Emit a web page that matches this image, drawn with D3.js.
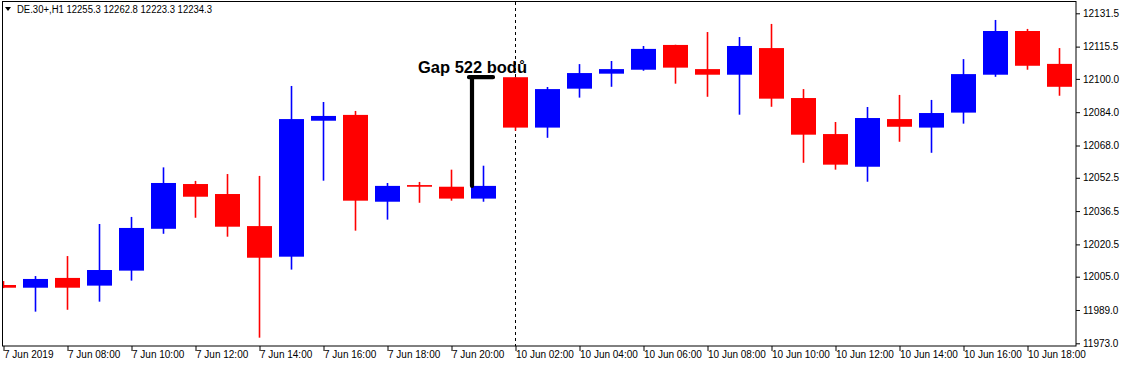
<!DOCTYPE html>
<html>
<head>
<meta charset="utf-8">
<script src="https://cdn.jsdelivr.net/npm/d3@7"></script>
<style>
  html, body { margin: 0; padding: 0; background: #ffffff; }
  svg { display: block; }
  text { font-family: "Liberation Sans", Arial, sans-serif; }
</style>
</head>
<body>
<svg id="chart" width="1122" height="367"></svg>
<script>
// ---- data ----
const times = [
  "7 Jun 06:00","7 Jun 07:00","7 Jun 08:00","7 Jun 09:00","7 Jun 10:00","7 Jun 11:00",
  "7 Jun 12:00","7 Jun 13:00","7 Jun 14:00","7 Jun 15:00","7 Jun 16:00","7 Jun 17:00",
  "7 Jun 18:00","7 Jun 19:00","7 Jun 20:00","7 Jun 21:00",
  "10 Jun 02:00","10 Jun 03:00","10 Jun 04:00","10 Jun 05:00","10 Jun 06:00","10 Jun 07:00",
  "10 Jun 08:00","10 Jun 09:00","10 Jun 10:00","10 Jun 11:00","10 Jun 12:00","10 Jun 13:00",
  "10 Jun 14:00","10 Jun 15:00","10 Jun 16:00","10 Jun 17:00","10 Jun 18:00","10 Jun 19:00"
];
const open  = [12001.0,11999.7,12004.4,12000.7,12007.9,12028.0,12049.5,12044.7,12029.3,12014.6,12079.9,12082.7,12041.0,12049.0,12048.2,12042.5,
               12100.8,12076.6,12095.3,12102.5,12104.4,12116.3,12104.7,12102.0,12114.8,12090.8,12073.5,12057.8,12080.7,12076.6,12083.8,12102.0,12123.0,12107.2];
const high  = [12002.9,12005.3,12014.9,12030.3,12033.7,12057.5,12051.0,12054.3,12053.4,12096.6,12088.9,12084.6,12050.0,12050.5,12056.4,12058.3,
               12100.8,12096.1,12107.1,12108.6,12115.8,12116.4,12122.5,12120.1,12126.4,12095.1,12079.3,12086.5,12092.3,12089.9,12109.5,12128.3,12124.0,12114.8];
const low   = [11999.5,11988.2,11989.1,11993.0,12003.1,12025.6,12033.3,12024.2,11975.7,12008.4,12051.1,12027.1,12032.4,12040.5,12041.5,12041.0,
               12075.1,12071.7,12091.0,12096.2,12103.9,12097.7,12091.4,12082.8,12086.6,12059.7,12056.4,12050.6,12069.8,12064.5,12078.5,12101.0,12104.4,12091.9];
const close = [11999.7,12003.9,11999.7,12008.2,12028.4,12050.0,12043.4,12029.0,12014.1,12080.7,12082.2,12041.5,12048.6,12048.2,12042.5,12048.6,
               12076.6,12095.1,12102.8,12104.7,12114.4,12105.4,12102.0,12115.8,12090.5,12073.2,12058.8,12081.2,12077.0,12083.6,12102.3,12123.0,12106.3,12096.2];
const priceTicks = [12131.5,12115.5,12100.0,12084.0,12068.0,12052.5,12036.5,12020.5,12005.0,11989.0,11973.0];
const timeTickLabels = ["7 Jun 2019","7 Jun 08:00","7 Jun 10:00","7 Jun 12:00","7 Jun 14:00","7 Jun 16:00","7 Jun 18:00","7 Jun 20:00",
                        "10 Jun 02:00","10 Jun 04:00","10 Jun 06:00","10 Jun 08:00","10 Jun 10:00","10 Jun 12:00","10 Jun 14:00","10 Jun 16:00","10 Jun 18:00"];
const timeTickAt = ["7 Jun 06:00","7 Jun 08:00","7 Jun 10:00","7 Jun 12:00","7 Jun 14:00","7 Jun 16:00","7 Jun 18:00","7 Jun 20:00",
                    "10 Jun 02:00","10 Jun 04:00","10 Jun 06:00","10 Jun 08:00","10 Jun 10:00","10 Jun 12:00","10 Jun 14:00","10 Jun 16:00","10 Jun 18:00"];
const separatorAt = "10 Jun 02:00";
const gapFrom = "7 Jun 21:00", gapTo = "10 Jun 02:00";
const gapLabel = "Gap 522 bodů";
const headerText = "DE.30+,H1  12255.3 12262.8 12223.3 12234.3";

// ---- layout ----
const frame = {left: 2, top: 2, right: 1076, bottom: 346};
const svg = d3.select("#chart");
const bodyW = 25;

const x = d3.scalePoint().domain(times).range([3.5, 3.5 + 32 * (times.length - 1)]);
const y = d3.scaleLinear().domain([11973.0, 12131.5]).range([343.3, 13.3]);

const candles = times.map((t, i) => ({t, o: open[i], h: high[i], l: low[i], c: close[i]}));

svg.append("defs").append("clipPath").attr("id", "plotclip")
  .append("rect").attr("x", frame.left).attr("y", frame.top)
  .attr("width", frame.right - frame.left).attr("height", frame.bottom - frame.top);

const plot = svg.append("g").attr("clip-path", "url(#plotclip)");

// period separator
plot.append("line")
  .attr("x1", x(separatorAt)).attr("x2", x(separatorAt))
  .attr("y1", frame.top).attr("y2", frame.bottom)
  .attr("stroke", "#000").attr("stroke-width", 1).attr("stroke-dasharray", "3,3");

const colorOf = d => d.c >= d.o ? "#0000ff" : "#ff0000";

// wicks
plot.selectAll("line.wick").data(candles).join("line")
  .attr("class", "wick")
  .attr("x1", d => x(d.t)).attr("x2", d => x(d.t))
  .attr("y1", d => y(d.h)).attr("y2", d => y(d.l))
  .attr("stroke", colorOf).attr("stroke-width", 1.6);

// bodies
plot.selectAll("rect.body").data(candles).join("rect")
  .attr("class", "body")
  .attr("x", d => x(d.t) - bodyW / 2)
  .attr("width", bodyW)
  .attr("y", d => y(Math.max(d.o, d.c)))
  .attr("height", d => Math.max(1.5, y(Math.min(d.o, d.c)) - y(Math.max(d.o, d.c))))
  .attr("fill", colorOf);

// gap annotation
const iFrom = times.indexOf(gapFrom), iTo = times.indexOf(gapTo);
const gx0 = x(gapFrom) - bodyW / 2 + 1;
const gx1 = x(gapTo) - bodyW / 2 - 10;
const gyTop = y(open[iTo]);
const gyBot = y(close[iFrom]);
svg.append("path")
  .attr("d", `M${gx0},${gyBot} L${gx0},${gyTop} M${gx0 - 3},${gyTop} L${gx1},${gyTop}`)
  .attr("fill", "none").attr("stroke", "#000").attr("stroke-width", 4.2)
  .attr("stroke-linecap", "round");
svg.append("text")
  .attr("x", gx0 - 54).attr("y", gyTop - 4)
  .attr("font-family", "'Open Sans', 'Noto Sans', sans-serif")
  .attr("font-weight", 700).attr("font-size", 16)
  .attr("textLength", 109).attr("lengthAdjust", "spacingAndGlyphs")
  .attr("fill", "#000").text(gapLabel);

// frame
svg.append("rect")
  .attr("x", frame.left + 0.5).attr("y", frame.top - 0.5)
  .attr("width", frame.right - frame.left - 0.5).attr("height", frame.bottom - frame.top + 0.5)
  .attr("fill", "none").attr("stroke", "#000").attr("stroke-width", 1);

// price axis (right)
const yAxis = svg.append("g")
  .attr("transform", `translate(${frame.right},0)`)
  .call(d3.axisRight(y).tickValues(priceTicks).tickSize(4).tickPadding(3)
        .tickFormat(d3.format(".1f")));
yAxis.select(".domain").remove();
yAxis.selectAll("text").attr("font-family", "'Liberation Sans', Arial, sans-serif").attr("font-size", 10).attr("fill", "#000");
yAxis.selectAll("line").attr("stroke", "#000");

// time axis (bottom)
const xAxis = svg.append("g")
  .attr("transform", `translate(0,${frame.bottom})`)
  .call(d3.axisBottom(x).tickValues(timeTickAt).tickSize(5)
        .tickFormat((d) => timeTickLabels[timeTickAt.indexOf(d)]));
xAxis.select(".domain").remove();
xAxis.selectAll("line").attr("stroke", "#000");
xAxis.selectAll("text")
  .attr("text-anchor", "start").attr("x", 0).attr("y", 5).attr("dy", "0.71em")
  .attr("font-family", "'Liberation Sans', Arial, sans-serif").attr("font-size", 10).attr("fill", "#000");

// header
svg.append("path").attr("d", "M5,7 L11,7 L8,11 Z").attr("fill", "#000");
svg.append("text").attr("x", 17).attr("y", 13)
  .attr("font-size", 10).attr("fill", "#000")
  .attr("textLength", 195).attr("lengthAdjust", "spacingAndGlyphs")
  .text(headerText);
</script>
</body>
</html>
